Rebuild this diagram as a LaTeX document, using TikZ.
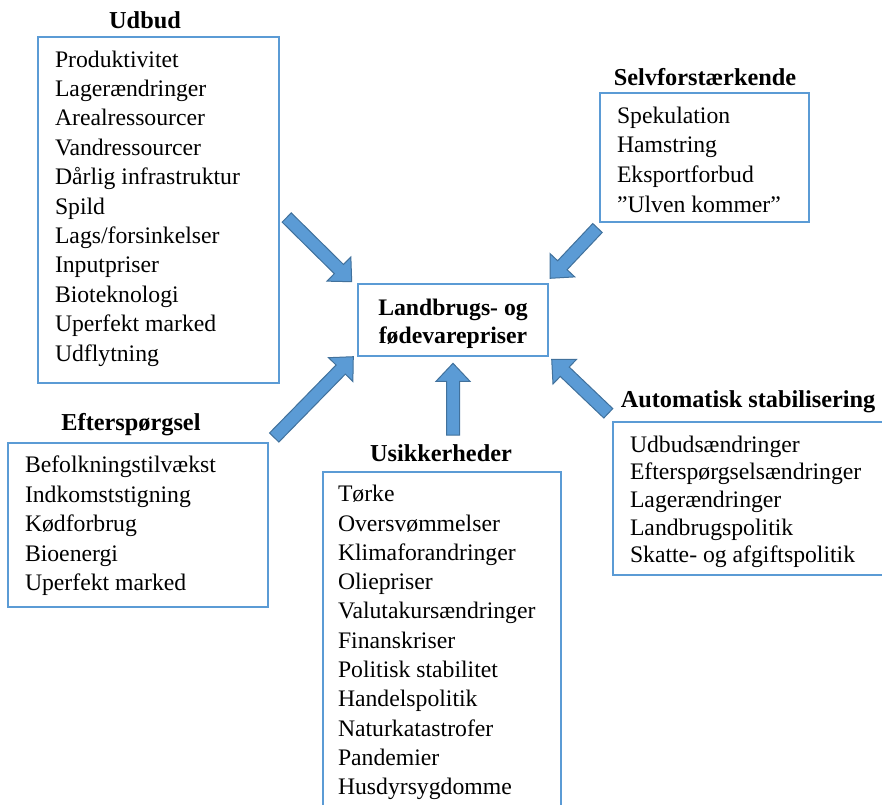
\documentclass[tikz,border=0pt]{standalone}
\usepackage{fontspec}
\setmainfont{Liberation Serif}
\usetikzlibrary{calc}
\definecolor{boxblue}{HTML}{5B9BD5}
\definecolor{arrowfill}{HTML}{5B9BD5}
\definecolor{arrowline}{HTML}{41719C}
\tikzset{
  box/.style={draw=boxblue, line width=1.3pt, rectangle, inner sep=0pt, outer sep=0pt, anchor=north west},
  listtext/.style={align=left, inner sep=0pt, outer sep=0pt, anchor=north west},
  titletext/.style={font=\bfseries\fontsize{24.3}{28}\selectfont, anchor=base, inner sep=0pt},
  bigarrow/.style={fill=arrowfill, draw=arrowline, line width=1pt, line join=miter},
}
\newcommand\myblockarrow[2]{%
  \path ($(#2)!18pt!(#1)$) coordinate (#2-b);
  \draw[bigarrow] (#2) -- ($(#2-b)!17pt!90:(#2)$) -- ($(#2-b)!6.5pt!90:(#2)$)
    -- ($(#1)!6.5pt!90:(#2)$) -- ($(#1)!6.5pt!-90:(#2)$)
    -- ($(#2-b)!6.5pt!-90:(#2)$) -- ($(#2-b)!17pt!-90:(#2)$) -- cycle;
}
\begin{document}
\begin{tikzpicture}[x=1pt,y=-1pt]
\useasboundingbox (0,0) rectangle (882,804);
\clip (0,0) rectangle (882,804);

% boxes
\node[box, minimum width=241pt, minimum height=346pt] (udbud) at (38,37) {};
\node[box, minimum width=209pt, minimum height=129pt] (selv) at (600,93) {};
\node[box, minimum width=260pt, minimum height=164pt] (eft) at (8,443) {};
\node[box, minimum width=280pt, minimum height=153pt] (auto) at (613,422) {};
\node[box, minimum width=238pt, minimum height=360pt] (usik) at (323,472) {};
\node[box, minimum width=190pt, minimum height=72pt] (prices) at (358,284) {};

% titles
\node[titletext] (udbudtitle) at (145,28) {Udbud};
\node[titletext] (selvtitle) at (705,85) {Selvforstærkende};
\node[titletext] (efttitle) at (131,430.5) {Efterspørgsel};
\node[titletext] (autotitle) at (748,407) {Automatisk stabilisering};
\node[titletext] (usiktitle) at (441,461.5) {Usikkerheder};

% central text
\node[align=center, inner sep=0pt, anchor=north, font=\bfseries\fontsize{23.7}{28}\selectfont] (pricestext) at (453,295)
  {\rule{0pt}{20pt}Landbrugs- og\\fødevarepriser};

% lists
\node[listtext, font=\fontsize{23.7}{29.4}\selectfont] (udbudlist) at (55,47)
  {\rule{0pt}{20pt}Produktivitet\\Lagerændringer\\Arealressourcer\\Vandressourcer\\Dårlig infrastruktur\\Spild\\Lags/forsinkelser\\Inputpriser\\Bioteknologi\\Uperfekt marked\\Udflytning};
\node[listtext, font=\fontsize{23.7}{29.7}\selectfont] (selvlist) at (617,103)
  {\rule{0pt}{20pt}Spekulation\\Hamstring\\Eksportforbud\\”Ulven kommer”};
\node[listtext, font=\fontsize{23.7}{29.5}\selectfont] (eftlist) at (25,452.7)
  {\rule{0pt}{20pt}Befolkningstilvækst\\Indkomststigning\\Kødforbrug\\Bioenergi\\Uperfekt marked};
\node[listtext, font=\fontsize{23.7}{27.6}\selectfont] (autolist) at (630,432.3)
  {\rule{0pt}{20pt}Udbudsændringer\\Efterspørgselsændringer\\Lagerændringer\\Landbrugspolitik\\Skatte- og afgiftspolitik};
\node[listtext, font=\fontsize{23.7}{29.3}\selectfont] (usiklist) at (338,481.7)
  {\rule{0pt}{20pt}Tørke\\Oversvømmelser\\Klimaforandringer\\Oliepriser\\Valutakursændringer\\Finanskriser\\Politisk stabilitet\\Handelspolitik\\Naturkatastrofer\\Pandemier\\Husdyrsygdomme};

% arrow end points
\coordinate (t1) at (286.7,217.5); \coordinate (h1) at (351.7,281.7);
\coordinate (t2) at (597.5,228);   \coordinate (h2) at (550,278.3);
\coordinate (t3) at (274.2,437.5); \coordinate (h3) at (353.3,356.7);
\coordinate (t4) at (608.3,413.3); \coordinate (h4) at (551.7,359.3);
\coordinate (t5) at (453,435);     \coordinate (h5) at (453,363.3);

\myblockarrow{t1}{h1}
\myblockarrow{t2}{h2}
\myblockarrow{t3}{h3}
\myblockarrow{t4}{h4}
\myblockarrow{t5}{h5}
\end{tikzpicture}
\end{document}
